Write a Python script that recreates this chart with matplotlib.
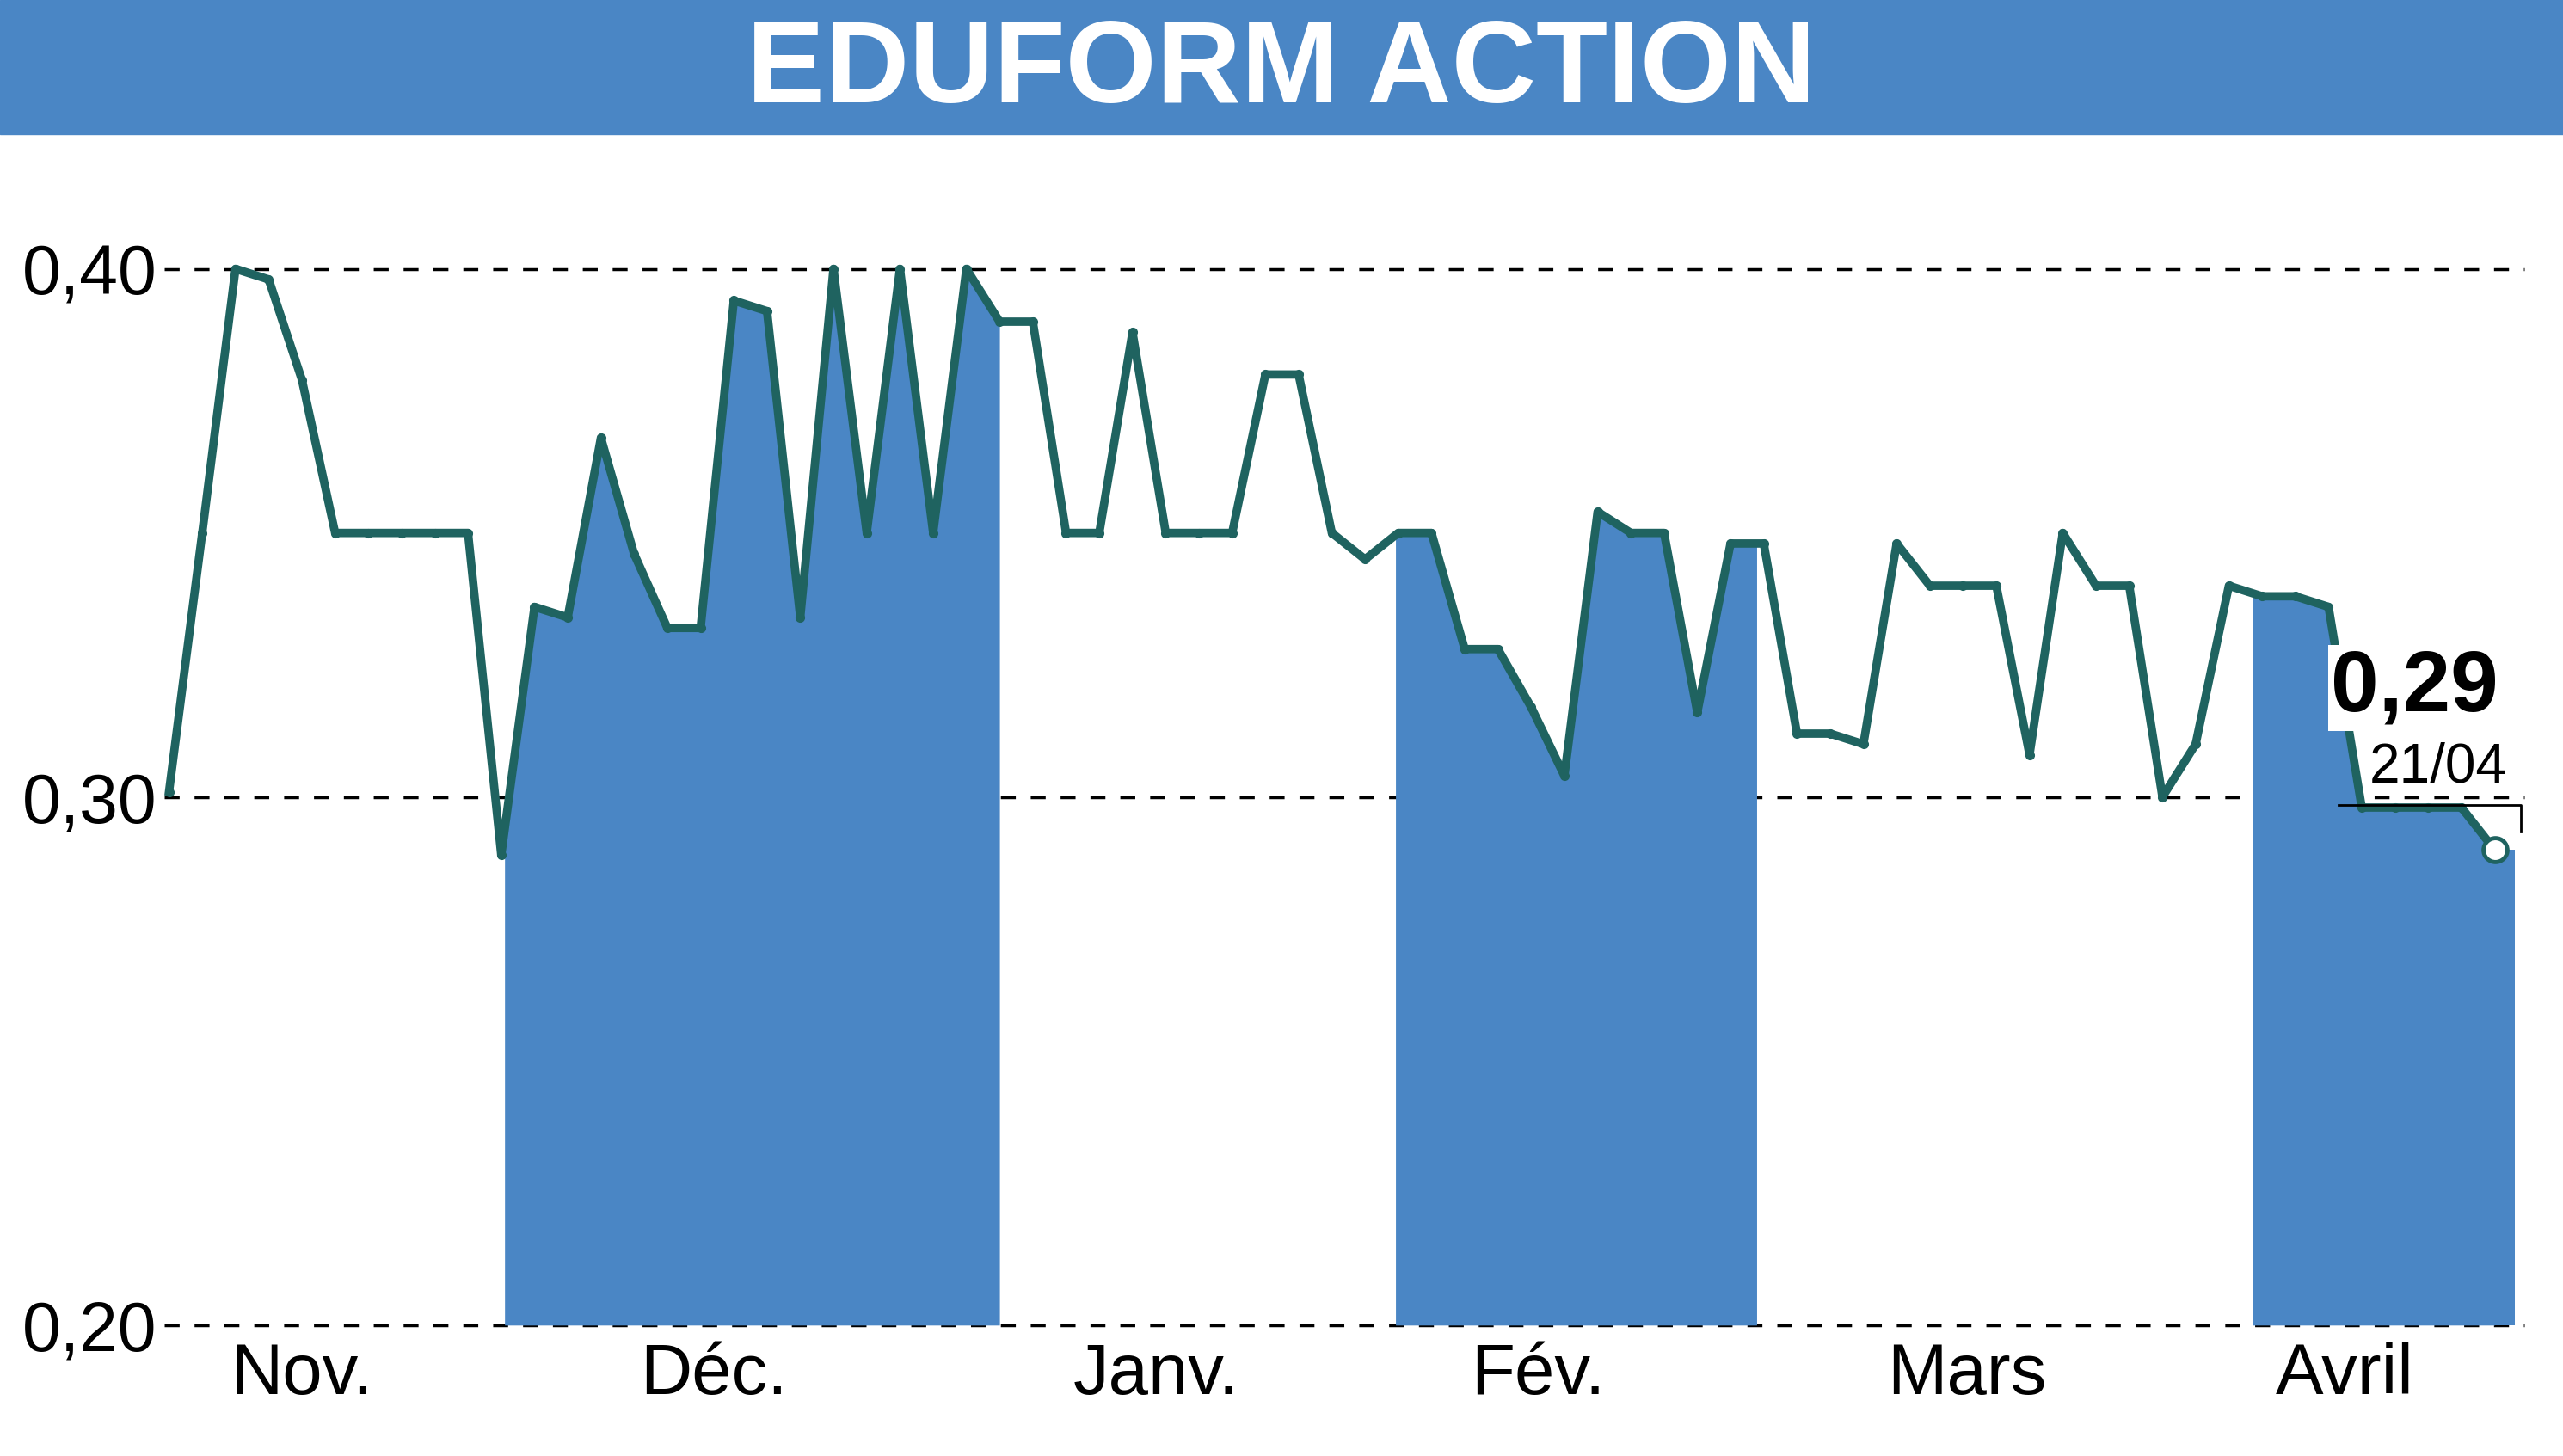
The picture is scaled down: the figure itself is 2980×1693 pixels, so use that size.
import matplotlib
matplotlib.use("Agg")
import matplotlib.pyplot as plt
import numpy as np

values = [0.301,0.350,0.400,0.398,0.379,0.350,0.350,0.350,0.350,0.350,
          0.289,0.336,0.334,0.368,0.346,0.332,0.332,0.394,0.392,0.334,
          0.400,0.350,0.400,0.350,0.400,0.390,0.390,0.350,0.350,0.388,
          0.350,0.350,0.350,0.380,0.380,0.350,0.345,0.350,0.350,0.328,
          0.328,0.317,0.304,0.354,0.350,0.350,0.316,0.348,0.348,0.312,
          0.312,0.310,0.348,0.340,0.340,0.340,0.308,0.350,0.340,0.340,
          0.300,0.310,0.340,0.338,0.338,0.336,0.298,0.298,0.298,0.298,0.290]
months = ["Nov.", "Déc.", "Janv.", "Fév.", "Mars", "Avril"]
month_pos = [4.0, 16.4, 29.7, 41.2, 54.1, 65.5]
bands = [(10.1, 25.0), (36.9, 47.8), (62.7, 70.6)]
yticks = [0.20, 0.30, 0.40]
ylabels = ["0,20", "0,30", "0,40"]
title = "EDUFORM ACTION"
last_label = "0,29"
last_date = "21/04"

blue = "#4a86c5"
green = "#1f6360"
fam = ["Liberation Sans", "DejaVu Sans"]

fig = plt.figure(figsize=(29.8, 16.93), dpi=100)
fig.patches.append(plt.Rectangle((0, 1-82/890), 1, 82/890, transform=fig.transFigure, color=blue, zorder=0))
fig.text(0.5, 1-44/890, title, color="white", fontsize=98, fontweight="bold",
         family=fam, ha="center", va="center")

ax = fig.add_axes([0.064, 0.0899, 0.921, 0.798])
x = np.arange(len(values))
v = np.array(values)
xf = np.linspace(0, len(values)-1, 4000)
vf = np.interp(xf, x, v)
for a, b in bands:
    m = (xf >= a) & (xf <= b)
    ax.fill_between(xf[m], 0.2, vf[m], color=blue, lw=0, zorder=1)
    if b > len(values)-1:
        ax.fill_between([len(values)-1, b], 0.2, values[-1], color=blue, lw=0, zorder=1)
for yt in yticks:
    ax.axhline(yt, color="black", ls=(0, (5, 5)), lw=2.5, zorder=0.5, clip_on=False)
ax.plot(x, v, color=green, lw=7, zorder=3, solid_joinstyle="round")
ax.plot(x, v, "o", color=green, ms=7, zorder=3)
ax.plot(x[-1], v[-1], "o", mfc="white", mec=green, ms=20, mew=3.5, zorder=5)
ax.set_xlim(-0.15, 70.9)
ax.set_ylim(0.2, 0.42)
for s in ax.spines.values():
    s.set_visible(False)
ax.set_yticks(yticks)
ax.set_yticklabels(ylabels, family=fam, fontsize=58)
ax.set_xticks(month_pos)
ax.set_xticklabels(months, family=fam, fontsize=60)
ax.tick_params(length=0, pad=14)
ax.tick_params(axis="y", pad=6)
ax.text(67.6, 0.3206, last_label, fontsize=72, fontweight="bold", family=fam,
        ha="center", va="center", zorder=6,
        bbox=dict(facecolor="white", edgecolor="none", pad=2))
ax.text(68.3, 0.3055, last_date, fontsize=46, family=fam, ha="center", va="center", zorder=6,
        bbox=dict(facecolor="white", edgecolor="none", pad=1))
ax.plot([65.3, 70.8, 70.8], [0.2985, 0.2985, 0.2935], color="black", lw=2, zorder=6)
fig.savefig("out.png", dpi=100)
